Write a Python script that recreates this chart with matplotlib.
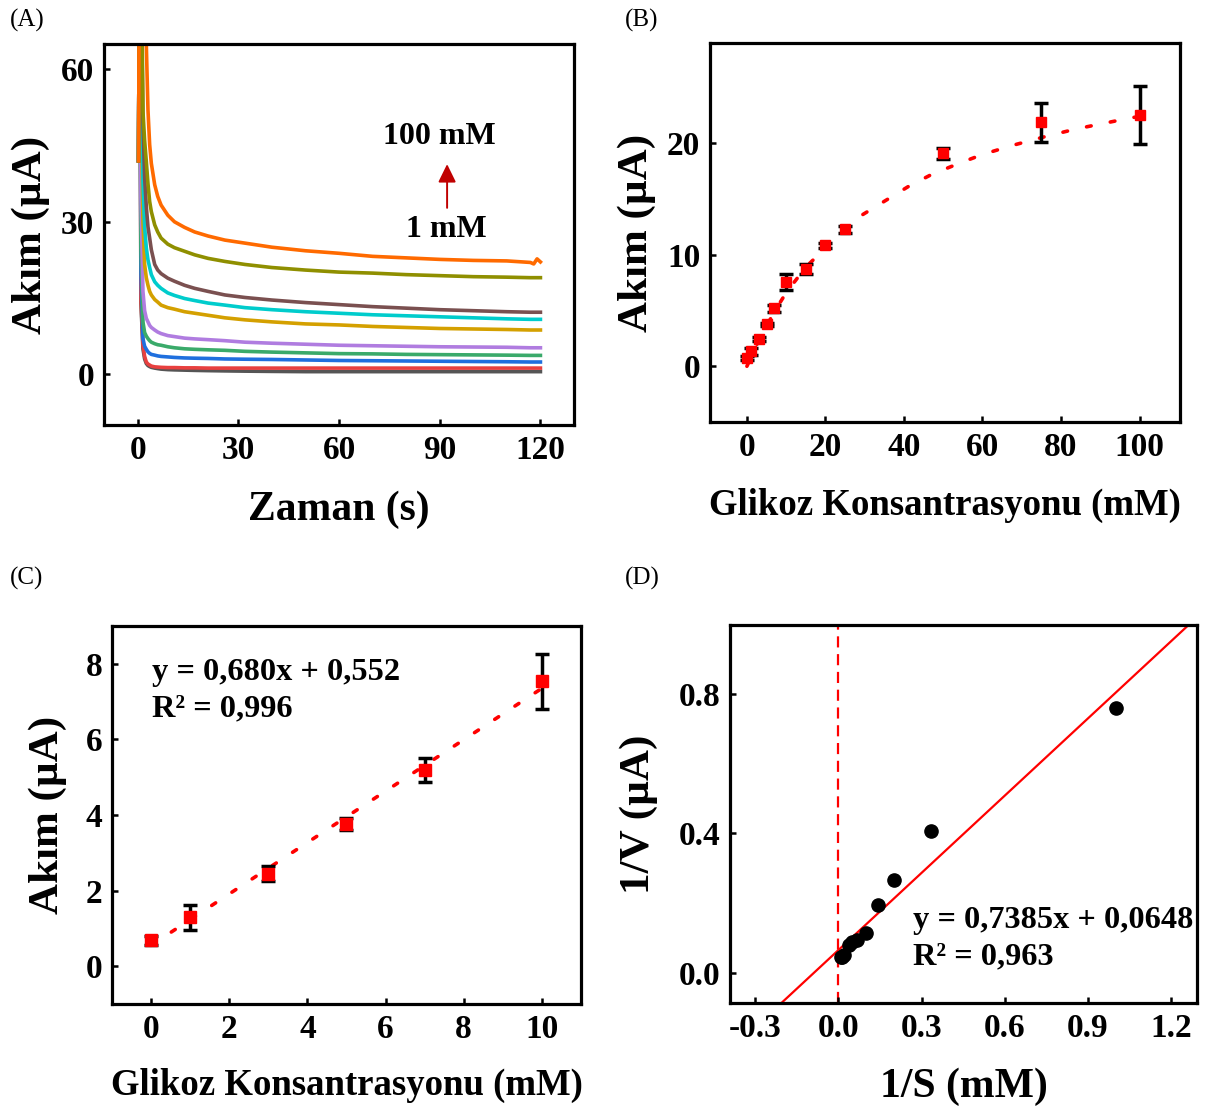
import numpy as np
import matplotlib
matplotlib.use("Agg")
import matplotlib.pyplot as plt

plt.rcParams['font.family'] = ['Liberation Serif', 'DejaVu Serif']
plt.rcParams['font.weight'] = 'bold'

# ---- (A) chronoamperometry, values ----
t_a = [0.3, 0.6, 1.0, 1.6, 2.1, 2.6, 3.1, 3.6, 4.1, 5.1, 6.0, 7.0, 9.0, 11, 14, 17, 21, 26,
       32, 40, 50, 60, 70, 80, 90, 100, 110, 117, 118, 119, 120]
curve_gray = [42, 100, 14, 5.0, 3.0, 2.1, 1.7, 1.5, 1.35, 1.2, 1.1, 1.0, 0.9, 0.85, 0.8, 0.75, 0.7, 0.65,
              0.6, 0.55, 0.5, 0.5, 0.5, 0.5, 0.5, 0.5, 0.5, 0.5, 0.5, 0.5, 0.5]
curve_red = [42, 100, 15, 5.7, 3.5, 2.4, 2.0, 1.8, 1.6, 1.45, 1.4, 1.35, 1.3, 1.3, 1.25, 1.25, 1.2, 1.2,
             1.2, 1.2, 1.2, 1.2, 1.2, 1.2, 1.2, 1.2, 1.2, 1.2, 1.2, 1.2, 1.2]
curve_blue = [42, 100, 20, 7.0, 5.5, 4.9, 4.4, 4.1, 3.9, 3.75, 3.6, 3.5, 3.4, 3.3, 3.2, 3.15, 3.1, 3.0,
              2.95, 2.9, 2.8, 2.7, 2.65, 2.6, 2.55, 2.5, 2.45, 2.4, 2.4, 2.4, 2.4]
curve_green = [42, 100, 25, 10.3, 8.2, 7.5, 7.0, 6.6, 6.3, 6.0, 5.8, 5.7, 5.4, 5.2, 5.0, 4.9, 4.8, 4.7,
               4.5, 4.35, 4.2, 4.05, 4.0, 3.9, 3.85, 3.8, 3.75, 3.7, 3.7, 3.7, 3.7]
curve_purple = [42, 100, 35, 16.3, 12.5, 11.0, 10.3, 9.6, 9.2, 8.7, 8.3, 8.0, 7.6, 7.4, 7.1, 6.95, 6.8, 6.6,
                6.3, 6.1, 5.9, 5.7, 5.6, 5.5, 5.4, 5.35, 5.3, 5.2, 5.2, 5.2, 5.2]
curve_gold = [42, 100, 55, 30, 21.6, 19.0, 17.5, 16.3, 15.6, 14.7, 14.2, 13.6, 13.1, 12.8, 12.3, 12.0, 11.6, 11.1,
              10.7, 10.3, 9.9, 9.7, 9.4, 9.2, 9.0, 8.9, 8.8, 8.7, 8.7, 8.7, 8.7]
curve_cyan = [42, 100, 70, 38, 29, 24.9, 22.5, 21.0, 19.6, 18.2, 17.5, 16.9, 16.0, 15.5, 14.9, 14.5, 14.0, 13.6,
              13.1, 12.7, 12.3, 12.0, 11.7, 11.5, 11.3, 11.1, 10.9, 10.8, 10.8, 10.8, 10.8]
curve_brown = [42, 100, 80, 50, 38.7, 33, 29, 26.8, 24.5, 21.6, 20.5, 19.8, 18.9, 18.3, 17.5, 16.9, 16.3, 15.6,
               15.1, 14.6, 14.1, 13.7, 13.3, 13.0, 12.7, 12.5, 12.3, 12.2, 12.2, 12.2, 12.2]
curve_olive = [42, 100, 90, 51.8, 46, 41.9, 37.5, 34.0, 32.0, 29.4, 28.0, 26.8, 25.6, 24.9, 24.2, 23.5, 22.8, 22.2,
               21.6, 21.0, 20.5, 20.1, 19.9, 19.6, 19.4, 19.2, 19.1, 19.0, 19.0, 19.0, 19.0]
curve_orange = [42, 100, 120, 100, 80, 65, 52, 45.2, 41.5, 37.3, 35.0, 33.3, 31.3, 30.0, 28.9, 28.0, 27.2, 26.4,
                25.8, 25.0, 24.3, 23.8, 23.2, 22.9, 22.6, 22.4, 22.3, 22.0, 21.7, 22.7, 22.1]
curves_a = [curve_gray, curve_red, curve_blue, curve_green, curve_purple,
            curve_gold, curve_cyan, curve_brown, curve_olive, curve_orange]
colors_a = ['#555555', '#e8403f', '#1f6fde', '#3aaa6a', '#b07ce0',
            '#d4a000', '#00cccc', '#7a5050', '#8f8f00', '#ff6a00']

# ---- (B) calibration, full range ----
conc_b = [0, 1, 3, 5, 7, 10, 15, 20, 25, 50, 75, 100]
cur_b = [0.75, 1.35, 2.46, 3.75, 5.19, 7.55, 8.76, 10.85, 12.3, 19.1, 21.9, 22.55]
err_b = [0.15, 0.3, 0.2, 0.15, 0.3, 0.7, 0.45, 0.25, 0.3, 0.5, 1.75, 2.6]
fit_b_x = [0, 3, 7, 10, 15, 20, 25, 29, 35, 41, 47, 54, 60, 68, 77, 84, 91, 98, 100]
fit_b_y = [0.0, 2.3, 4.9, 6.6, 8.9, 10.6, 12.4, 13.5, 14.8, 16.1, 17.2, 18.2, 19.0, 19.85, 20.7, 21.3, 21.8, 22.3, 22.4]

# ---- (C) linear range ----
conc_c = [0, 1, 3, 5, 7, 10]
cur_c = [0.69, 1.29, 2.45, 3.76, 5.19, 7.54]
err_c = [0.12, 0.33, 0.2, 0.15, 0.31, 0.73]
fit_c_x = [0, 10]
fit_c_y = [0.552, 7.352]

# ---- (D) Lineweaver-Burk ----
inv_s = [1.0, 0.333, 0.2, 0.143, 0.1, 0.0667, 0.05, 0.04, 0.02, 0.0133, 0.01]
inv_v = [0.761, 0.406, 0.265, 0.193, 0.115, 0.095, 0.087, 0.080, 0.052, 0.046, 0.044]
fit_d_x = [-0.4, 1.3]
fit_d_y = [-0.2306, 1.0249]

fig = plt.figure(figsize=(12.13, 11.09), dpi=100)
W, H = 1213.0, 1109.0

def make_ax(l, r, t, b):
    ax = fig.add_axes([l / W, 1 - b / H, (r - l) / W, (b - t) / H])
    for s in ax.spines.values():
        s.set_linewidth(2.3)
    ax.tick_params(direction='in', length=4, width=1.8, labelsize=24, pad=7)
    return ax

def bold_ticks(ax):
    for lab in ax.get_xticklabels() + ax.get_yticklabels():
        lab.set_fontweight('bold')

dotted = dict(color='red', lw=2.6, dashes=(1.3, 5.4), dash_capstyle='round', zorder=2)

# (A)
axA = make_ax(104, 574, 44, 425)
for c, col in zip(curves_a, colors_a):
    axA.plot(t_a, c, color=col, lw=2.6)
axA.set_xlim(-10, 130)
axA.set_ylim(-10, 65)
axA.set_xticks([0, 30, 60, 90, 120])
axA.set_yticks([0, 30, 60])
axA.set_xlabel('Zaman (s)', fontsize=30, fontweight='bold', labelpad=18)
axA.set_ylabel('Akım (µA)', fontsize=31, fontweight='bold', labelpad=8)
axA.text(90, 46.7, '100 mM', fontsize=23, fontweight='bold', ha='center', va='center')
axA.text(92, 28.5, '1 mM', fontsize=23, fontweight='bold', ha='center', va='center')
axA.annotate('', xy=(92.2, 41.9), xytext=(92.2, 32.2),
             arrowprops=dict(arrowstyle='-|>,head_length=0.55,head_width=0.27',
                             mutation_scale=20, color='#c00000', lw=1.4))
bold_ticks(axA)

# (B)
axB = make_ax(710, 1180, 43, 422)
axB.plot(fit_b_x, fit_b_y, **dotted)
axB.errorbar(conc_b, cur_b, yerr=err_b, fmt='none', ecolor='black', elinewidth=2.5,
             capsize=5, capthick=2.5, zorder=3)
axB.plot(conc_b, cur_b, 's', color='red', ms=7.5, zorder=4)
axB.set_xlim(-9.4, 110.3)
axB.set_ylim(-5, 29)
axB.set_xticks([0, 20, 40, 60, 80, 100])
axB.set_yticks([0, 10, 20])
axB.set_xlabel('Glikoz Konsantrasyonu (mM)', fontsize=26.5, fontweight='bold', labelpad=18)
axB.set_ylabel('Akım (µA)', fontsize=31, fontweight='bold', labelpad=8)
bold_ticks(axB)

# (C)
axC = make_ax(112, 581, 626, 1004)
axC.plot(fit_c_x, fit_c_y, **dotted)
axC.errorbar(conc_c, cur_c, yerr=err_c, fmt='none', ecolor='black', elinewidth=2.5,
             capsize=5, capthick=2.5, zorder=3)
axC.plot(conc_c, cur_c, 's', color='red', ms=8, zorder=4)
axC.set_xlim(-1, 11)
axC.set_ylim(-1, 9)
axC.set_xticks([0, 2, 4, 6, 8, 10])
axC.set_yticks([0, 2, 4, 6, 8])
axC.text(0.03, 7.78, 'y = 0,680x + 0,552', fontsize=23.3, fontweight='bold', va='center')
axC.text(0.03, 6.8, 'R² = 0,996', fontsize=23.3, fontweight='bold', va='center')
axC.set_xlabel('Glikoz Konsantrasyonu (mM)', fontsize=26.5, fontweight='bold', labelpad=17)
axC.set_ylabel('Akım (µA)', fontsize=31, fontweight='bold', labelpad=13)
bold_ticks(axC)

# (D)
axD = make_ax(730, 1197, 625, 1003)
axD.axvline(0, color='red', lw=1.6, ls=(0, (5, 3)), zorder=1)
axD.plot(fit_d_x, fit_d_y, color='red', lw=1.6, zorder=2)
axD.plot(inv_s, inv_v, 'o', color='black', ms=9.5, zorder=3)
axD.set_xlim(-0.391, 1.294)
axD.set_ylim(-0.087, 0.998)
axD.set_xticks([-0.3, 0.0, 0.3, 0.6, 0.9, 1.2])
axD.set_xticklabels(['-0.3', '0.0', '0.3', '0.6', '0.9', '1.2'])
axD.set_yticks([0.0, 0.4, 0.8])
axD.set_yticklabels(['0.0', '0.4', '0.8'])
axD.text(0.271, 0.150, 'y = 0,7385x + 0,0648', fontsize=23.3, fontweight='bold', va='center')
axD.text(0.271, 0.045, 'R² = 0,963', fontsize=23.3, fontweight='bold', va='center')
axD.set_xlabel('1/S (mM)', fontsize=30, fontweight='bold', labelpad=17)
axD.set_ylabel('1/V (µA)', fontsize=31, fontweight='bold', labelpad=15)
bold_ticks(axD)

# panel letters
for lab, x, y in [('(A)', 10, 20), ('(B)', 625, 20), ('(C)', 10, 578), ('(D)', 625, 578)]:
    fig.text(x / W, 1 - y / H, lab, fontsize=18, fontweight='normal', va='center', ha='left')

fig.savefig('out.png', dpi=100)
